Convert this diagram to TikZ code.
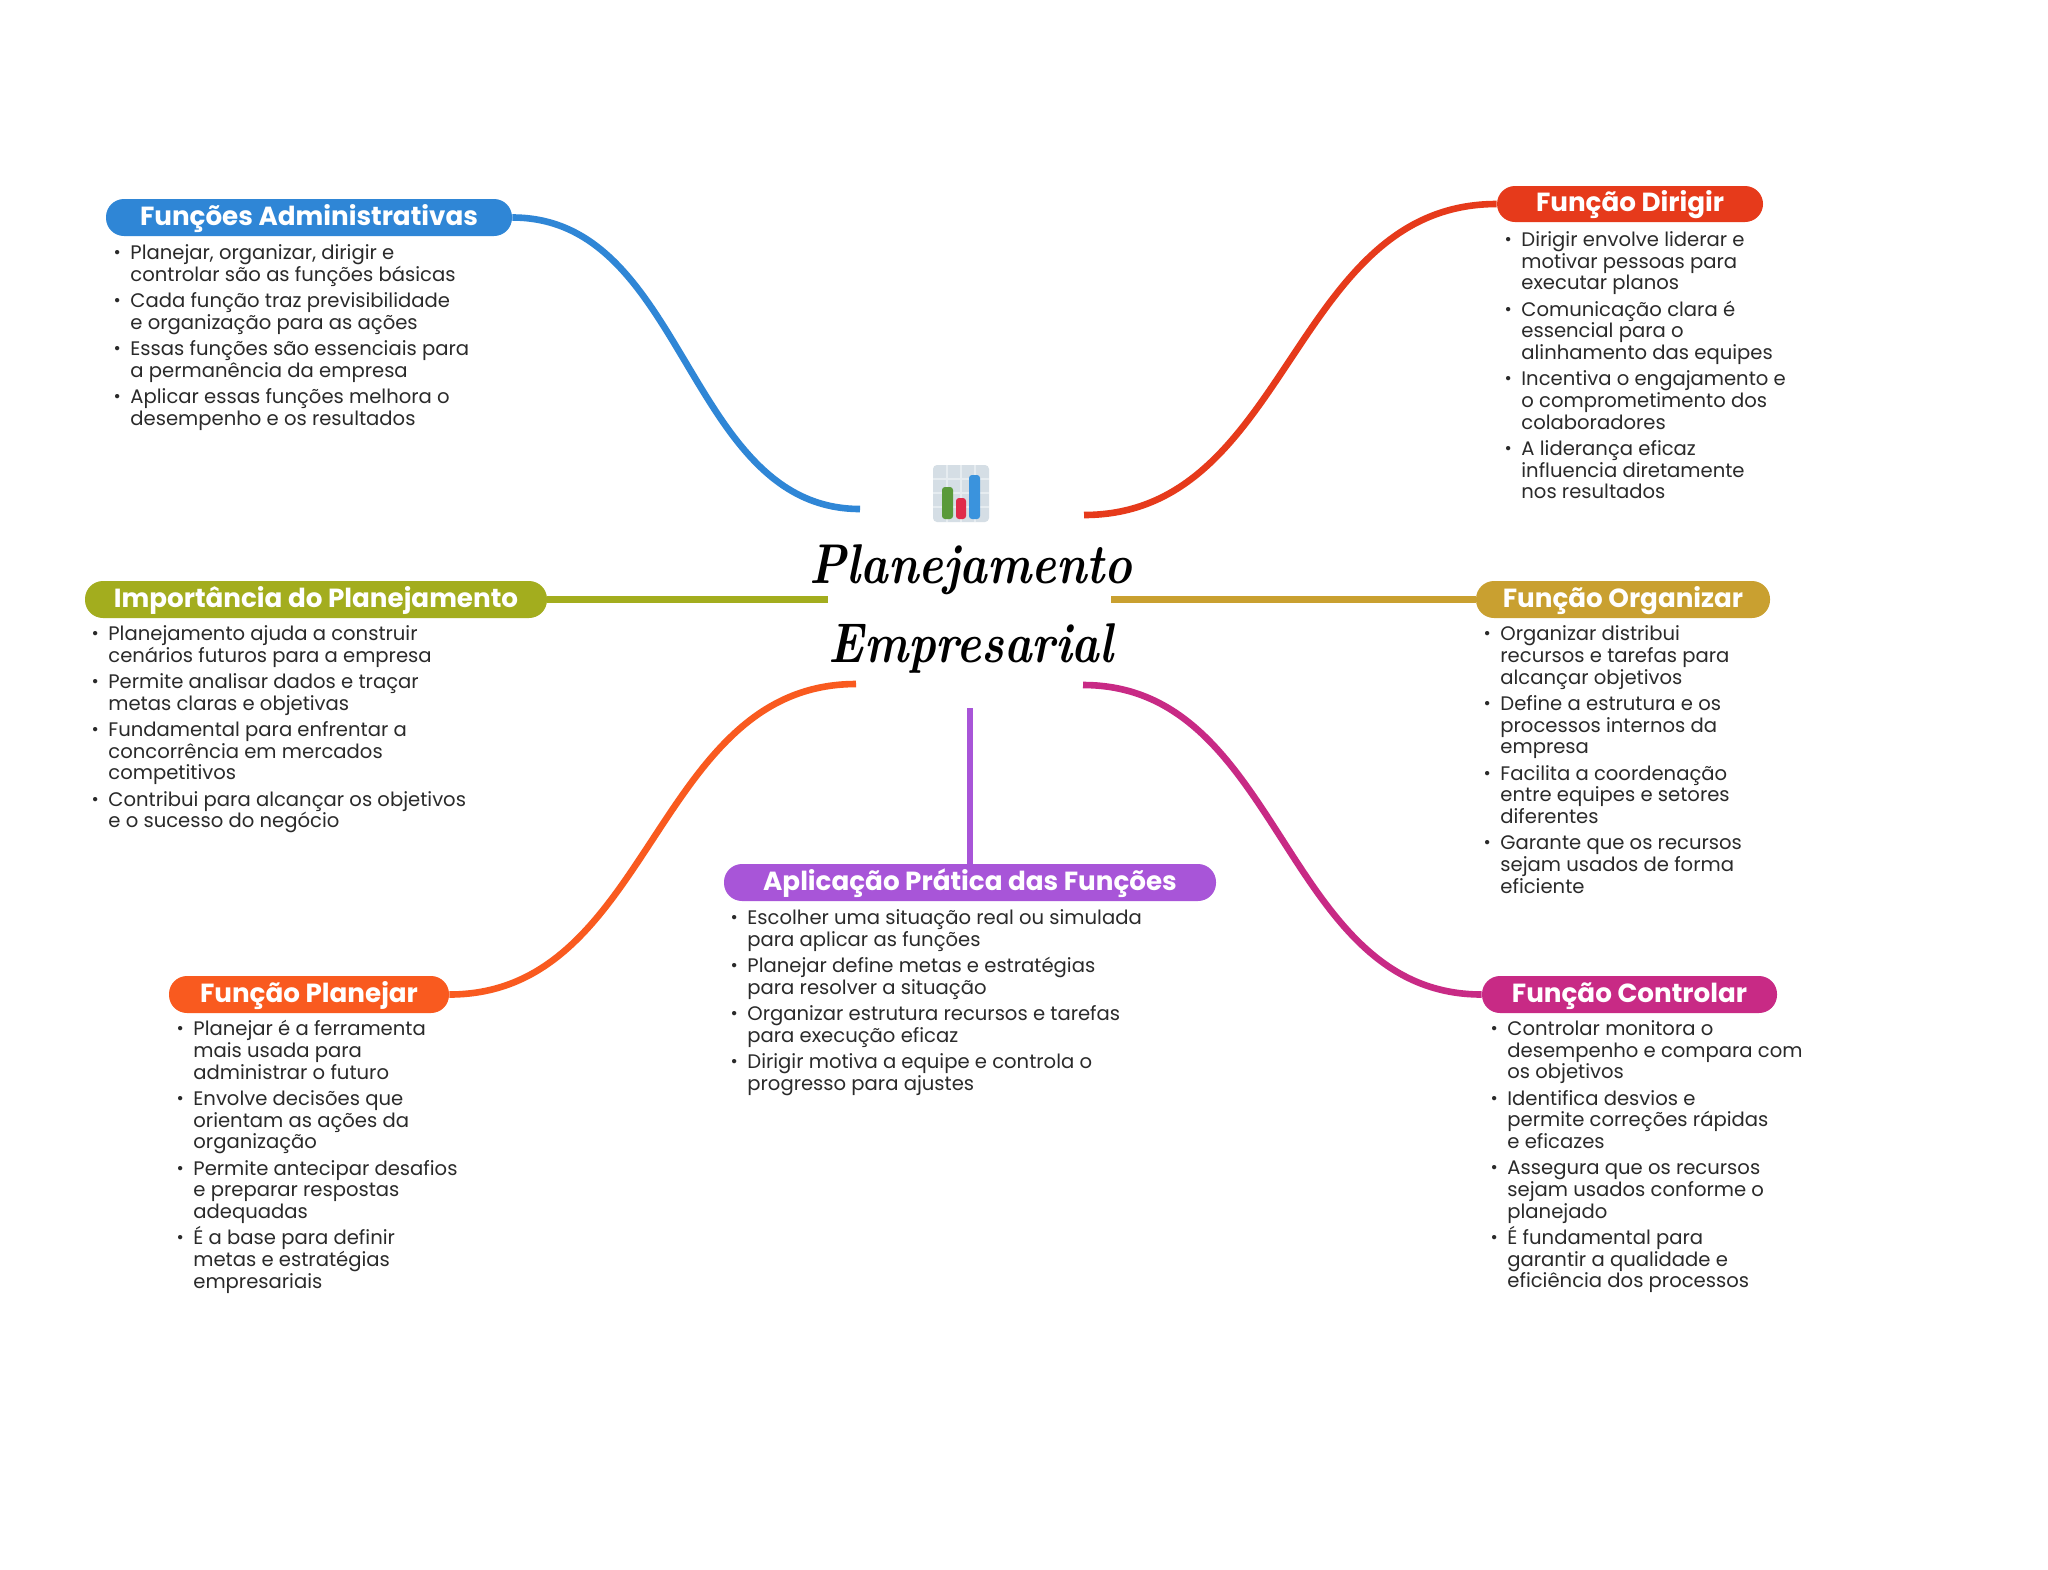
\documentclass[tikz,border=0pt]{standalone}
\usepackage{fontspec}
\setmainfont{Poppins}
\newfontfamily\titlefont{Latin Modern Roman}
\definecolor{cblue}{HTML}{2F86D6}
\definecolor{cred}{HTML}{E63A1B}
\definecolor{clime}{HTML}{A3AD1E}
\definecolor{cgold}{HTML}{C9A030}
\definecolor{corange}{HTML}{F95A1F}
\definecolor{cmag}{HTML}{C82A85}
\definecolor{cpurple}{HTML}{A855D8}
\definecolor{tdark}{HTML}{2A2A2A}
\definecolor{iconbg}{HTML}{D5DEE5}
\definecolor{icongrid}{HTML}{E6ECF0}
\definecolor{icongreen}{HTML}{5A9A3A}
\definecolor{iconred}{HTML}{E02B4B}
\definecolor{iconblue}{HTML}{3A93DD}
\newcommand{\bl}{\leavevmode\llap{\raisebox{0.5pt}{\scalebox{0.9}{\textbullet}}\hspace{4.8pt}}}
\newcommand{\gapbr}{\\[2.3pt]}
\tikzset{
  x=0.5pt,y=-0.5pt,
  pill/.style={fill=#1,rounded corners=9pt,inner sep=0pt,text=white,text height=9.8pt,text depth=2pt,
    font=\fontsize{13.1}{15}\selectfont\bfseries},
  bodytxt/.style={font=\fontsize{9.8}{10.85}\selectfont,align=left,inner sep=0pt,anchor=north west,text=tdark},
  branch/.style={draw=#1,line width=3.3pt,line cap=butt},
  titletxt/.style={font=\fontsize{28}{30}\selectfont\titlefont\bfseries\itshape,inner sep=0pt,text=black,anchor=base}
}
\begin{document}
\lineskiplimit=-20pt
\begin{tikzpicture}
\useasboundingbox (0,0) rectangle (2048,1569);
\fill[white] (0,0) rectangle (2048,1569);
% hub ends
\coordinate (hubA) at (860,509);
\coordinate (hubB) at (1084,515);
\coordinate (hubC) at (828,599.5);
\coordinate (hubD) at (1111,599.5);
\coordinate (hubE) at (856,684);
\coordinate (hubF) at (1083,685);
\coordinate (hubG) at (970,708);
% pills
\node[pill=cblue,minimum width=203pt,minimum height=18.5pt] (admin) at (309,217.5) {Funções Administrativas};
\node[pill=cred,minimum width=133pt,minimum height=18pt] (dirigir) at (1630,204) {Função Dirigir};
\node[pill=clime,minimum width=231pt,minimum height=18.5pt] (import) at (316,599.5) {Importância do Planejamento};
\node[pill=cgold,minimum width=147pt,minimum height=18.5pt] (organ) at (1623,599.5) {Função Organizar};
\node[pill=cpurple,minimum width=246pt,minimum height=18.5pt] (aplic) at (970,882.5) {Aplicação Prática das Funções};
\node[pill=corange,minimum width=140pt,minimum height=18.5pt] (plan) at (309,994.5) {Função Planejar};
\node[pill=cmag,minimum width=147.5pt,minimum height=18.5pt] (contr) at (1629.5,994.5) {Função Controlar};
% connectors
\draw[branch=cblue] (admin.east) .. controls +(174,0) and +(-174,0) .. (hubA);
\draw[branch=cred] (dirigir.west) .. controls +(-206,0) and +(206,0) .. (hubB);
\draw[branch=clime] (import.east) -- (hubC);
\draw[branch=cgold] (organ.west) -- (hubD);
\draw[branch=corange] (plan.east) .. controls +(203,0) and +(-203,0) .. (hubE);
\draw[branch=cmag] (contr.west) .. controls +(-200,0) and +(200,0) .. (hubF);
\draw[branch=cpurple] (aplic.north) -- (hubG);
% title
\node[titletxt] (t1) at (971,583) {\scalebox{0.833}[1]{Planejamento}};
\node[titletxt] (t2) at (971,662) {\scalebox{0.833}[1]{Empresarial}};
% icon
\fill[iconbg,rounded corners=2pt] (933,465) rectangle (989,522);
\foreach \gx in {947,961,975}{\draw[icongrid,line width=0.8pt] (\gx,465) -- (\gx,522);}
\foreach \gy in {479,493,507}{\draw[icongrid,line width=0.8pt] (933,\gy) -- (989,\gy);}
\fill[icongreen,rounded corners=1.5pt] (942,487) rectangle (953,519);
\fill[iconred,rounded corners=1.5pt] (956,498) rectangle (966,519);
\fill[iconblue,rounded corners=1.5pt] (969,475) rectangle (980,519);
% text lists
\node[bodytxt] (ladmin) at (130,244) {\bl Planejar, organizar, dirigir e\\controlar são as funções básicas\gapbr
\bl Cada função traz previsibilidade\\e organização para as ações\gapbr
\bl Essas funções são essenciais para\\a permanência da empresa\gapbr
\bl Aplicar essas funções melhora o\\desempenho e os resultados};
\node[bodytxt] (ldir) at (1521,231) {\bl Dirigir envolve liderar e\\motivar pessoas para\\executar planos\gapbr
\bl Comunicação clara é\\essencial para o\\alinhamento das equipes\gapbr
\bl Incentiva o engajamento e\\o comprometimento dos\\colaboradores\gapbr
\bl A liderança eficaz\\influencia diretamente\\nos resultados};
\node[bodytxt] (limp) at (108,625) {\bl Planejamento ajuda a construir\\cenários futuros para a empresa\gapbr
\bl Permite analisar dados e traçar\\metas claras e objetivas\gapbr
\bl Fundamental para enfrentar a\\concorrência em mercados\\competitivos\gapbr
\bl Contribui para alcançar os objetivos\\e o sucesso do negócio};
\node[bodytxt] (lorg) at (1500,625.5) {\bl Organizar distribui\\recursos e tarefas para\\alcançar objetivos\gapbr
\bl Define a estrutura e os\\processos internos da\\empresa\gapbr
\bl Facilita a coordenação\\entre equipes e setores\\diferentes\gapbr
\bl Garante que os recursos\\sejam usados de forma\\eficiente};
\node[bodytxt] (lapl) at (747,909) {\bl Escolher uma situação real ou simulada\\para aplicar as funções\gapbr
\bl Planejar define metas e estratégias\\para resolver a situação\gapbr
\bl Organizar estrutura recursos e tarefas\\para execução eficaz\gapbr
\bl Dirigir motiva a equipe e controla o\\progresso para ajustes};
\node[bodytxt] (lpla) at (193,1020) {\bl Planejar é a ferramenta\\mais usada para\\administrar o futuro\gapbr
\bl Envolve decisões que\\orientam as ações da\\organização\gapbr
\bl Permite antecipar desafios\\e preparar respostas\\adequadas\gapbr
\bl É a base para definir\\metas e estratégias\\empresariais};
\node[bodytxt] (lcon) at (1507,1020) {\bl Controlar monitora o\\desempenho e compara com\\os objetivos\gapbr
\bl Identifica desvios e\\permite correções rápidas\\e eficazes\gapbr
\bl Assegura que os recursos\\sejam usados conforme o\\planejado\gapbr
\bl É fundamental para\\garantir a qualidade e\\eficiência dos processos};
\end{tikzpicture}
\end{document}
